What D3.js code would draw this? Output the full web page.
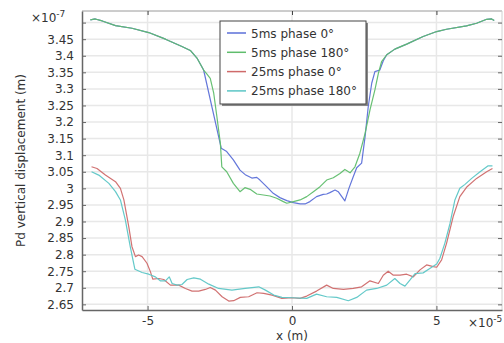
<!DOCTYPE html>
<html>
<head>
<meta charset="utf-8">
<script src="https://cdn.jsdelivr.net/npm/d3@7"></script>
<style>
  html, body { margin: 0; padding: 0; background: #fff; }
  svg { display: block; font-family: "DejaVu Sans", sans-serif; }
</style>
</head>
<body>
<svg id="chart" width="504" height="343"></svg>
<script>
// x in units of 1e-5 m, displacement in units of 1e-7 m
const seriesNames = ["5ms phase 0°", "5ms phase 180°", "25ms phase 0°", "25ms phase 180°"];
const seriesColors = ["#5b6fd8", "#5fbd6c", "#cf6a6a", "#5cc6c6"];

const blue5ms = [
  [-6.98,3.508],[-6.81,3.511],[-6.57,3.505],[-6.11,3.491],[-5.54,3.483],[-4.96,3.470],[-4.38,3.450],
  [-3.81,3.428],[-3.52,3.416],[-3.29,3.393],[-3.06,3.357],[-2.45,3.121],[-2.26,3.111],[-2.03,3.086],
  [-1.80,3.055],[-1.60,3.040],[-1.39,3.031],[-1.22,3.033],[-1.11,3.025],[-0.88,3.005],[-0.65,2.985],
  [-0.42,2.972],[-0.18,2.963],[0.05,2.957],[0.28,2.953],[0.45,2.953],[0.62,2.960],[0.85,2.975],
  [1.08,2.982],[1.20,2.983],[1.31,2.987],[1.49,2.995],[1.60,2.990],[1.83,2.962],[1.97,3.000],
  [2.12,3.035],[2.24,3.062],[2.41,3.076],[2.53,3.156],[2.64,3.247],[2.76,3.317],[2.87,3.352],
  [3.04,3.357],[3.16,3.385],[3.28,3.403],[3.56,3.420],[3.97,3.435],[4.54,3.458],[5.01,3.473],
  [5.35,3.480],[6.04,3.490],[6.39,3.498],[6.74,3.510],[6.91,3.511],[7.00,3.506]
];

const green5ms = [
  [-6.98,3.508],[-6.81,3.511],[-6.57,3.505],[-6.11,3.491],[-5.54,3.483],[-4.96,3.470],[-4.38,3.450],
  [-3.81,3.428],[-3.52,3.416],[-3.29,3.393],[-3.06,3.357],[-2.95,3.345],[-2.83,3.332],[-2.71,3.287],
  [-2.60,3.216],[-2.48,3.136],[-2.43,3.065],[-2.26,3.050],[-2.03,3.015],[-1.80,2.990],[-1.63,3.002],
  [-1.45,2.997],[-1.22,2.983],[-0.99,2.980],[-0.76,2.977],[-0.53,2.970],[-0.30,2.960],[-0.18,2.955],
  [0.05,2.960],[0.28,2.965],[0.51,2.975],[0.74,2.990],[0.97,3.005],[1.20,3.025],[1.43,3.032],
  [1.66,3.045],[1.83,3.057],[2.01,3.047],[2.18,3.065],[2.35,3.106],[2.53,3.166],[2.70,3.237],
  [2.87,3.297],[2.99,3.347],[3.10,3.382],[3.28,3.403],[3.56,3.420],[3.97,3.435],[4.54,3.458],
  [5.01,3.473],[5.35,3.480],[6.04,3.490],[6.39,3.498],[6.74,3.510],[6.91,3.511],[7.00,3.506]
];

const red25ms = [
  [-6.94,3.065],[-6.75,3.060],[-6.46,3.040],[-6.11,3.020],[-5.94,3.000],[-5.82,2.965],[-5.65,2.884],
  [-5.54,2.824],[-5.42,2.794],[-5.31,2.799],[-5.19,2.794],[-5.02,2.774],[-4.90,2.748],[-4.82,2.726],
  [-4.61,2.728],[-4.44,2.725],[-4.21,2.708],[-3.92,2.708],[-3.69,2.698],[-3.46,2.690],[-3.23,2.690],
  [-3.00,2.695],[-2.83,2.701],[-2.65,2.693],[-2.42,2.673],[-2.19,2.660],[-2.02,2.661],[-1.79,2.671],
  [-1.50,2.673],[-1.21,2.685],[-0.98,2.683],[-0.69,2.678],[-0.35,2.668],[0.00,2.670],[0.28,2.668],
  [0.51,2.675],[0.85,2.690],[1.20,2.708],[1.43,2.698],[1.78,2.695],[2.12,2.698],[2.41,2.703],
  [2.70,2.721],[2.99,2.713],[3.16,2.738],[3.33,2.750],[3.51,2.738],[3.74,2.738],[3.97,2.741],
  [4.20,2.733],[4.43,2.754],[4.66,2.769],[4.89,2.764],[5.01,2.762],[5.18,2.784],[5.35,2.834],
  [5.58,2.915],[5.81,2.975],[6.06,3.005],[6.39,3.030],[6.74,3.050],[6.94,3.060]
];

const cyan25ms = [
  [-6.94,3.050],[-6.69,3.040],[-6.34,3.015],[-6.11,2.990],[-5.94,2.965],[-5.77,2.905],[-5.60,2.824],
  [-5.44,2.756],[-5.19,2.746],[-4.96,2.741],[-4.73,2.733],[-4.56,2.721],[-4.38,2.721],[-4.25,2.733],
  [-4.15,2.713],[-3.98,2.708],[-3.81,2.710],[-3.63,2.725],[-3.40,2.730],[-3.17,2.726],[-2.88,2.711],
  [-2.54,2.698],[-2.08,2.693],[-1.62,2.698],[-1.15,2.703],[-0.92,2.693],[-0.63,2.678],[-0.35,2.671],
  [0.00,2.670],[0.51,2.668],[0.85,2.681],[1.20,2.673],[1.55,2.671],[1.95,2.661],[2.24,2.671],
  [2.58,2.693],[2.93,2.698],[3.28,2.708],[3.56,2.728],[3.74,2.713],[3.91,2.705],[4.08,2.723],
  [4.26,2.743],[4.54,2.745],[4.77,2.758],[5.01,2.772],[5.12,2.789],[5.29,2.834],[5.47,2.894],
  [5.64,2.965],[5.81,3.000],[5.99,3.012],[6.22,3.030],[6.51,3.050],[6.79,3.068],[6.94,3.068]
];

const xTickValues = [-5, 0, 5];
const xTickLabels = ["-5", "0", "5"];
const yTickValues = [2.65, 2.7, 2.75, 2.8, 2.85, 2.9, 2.95, 3, 3.05, 3.1, 3.15, 3.2, 3.25, 3.3, 3.35, 3.4, 3.45, 3.5];
const yTickLabels = ["2.65", "2.7", "2.75", "2.8", "2.85", "2.9", "2.95", "3", "3.05", "3.1", "3.15", "3.2", "3.25", "3.3", "3.35", "3.4", "3.45", ""];

const allSeries = [blue5ms, green5ms, red25ms, cyan25ms];

const svg = d3.select("#chart");
const plotLeft = 82, plotRight = 502, plotTop = 11, plotBottom = 310;

const x = d3.scaleLinear().domain([-7.27, 7.27]).range([plotLeft, plotRight]);
const y = d3.scaleLinear().domain([2.633, 3.535]).range([plotBottom, plotTop]);

const textColor = "#333";

// grid
const grid = svg.append("g");
grid.selectAll("line.gy").data(yTickValues).join("line")
  .attr("x1", plotLeft).attr("x2", plotRight)
  .attr("y1", d => y(d)).attr("y2", d => y(d))
  .attr("stroke", "#e8e8e8").attr("stroke-width", 1.5);
grid.selectAll("line.gx").data(xTickValues).join("line")
  .attr("x1", d => x(d)).attr("x2", d => x(d))
  .attr("y1", plotTop).attr("y2", plotBottom)
  .attr("stroke", "#e8e8e8").attr("stroke-width", 1.5);

// frame
svg.append("line").attr("x1", plotLeft).attr("x2", plotRight).attr("y1", plotTop).attr("y2", plotTop)
  .attr("stroke", "#9a9a9a").attr("stroke-width", 1);
svg.append("line").attr("x1", plotRight).attr("x2", plotRight).attr("y1", plotTop).attr("y2", plotBottom)
  .attr("stroke", "#d0d0d0").attr("stroke-width", 1);

// axes with inward ticks
const yAxisL = d3.axisLeft(y).tickValues(yTickValues)
  .tickFormat((d, i) => yTickLabels[i]).tickSizeInner(-4).tickSizeOuter(0).tickPadding(8);
const gy = svg.append("g").attr("transform", `translate(${plotLeft},0)`).call(yAxisL);
gy.select(".domain").attr("stroke", "#666").attr("stroke-width", 1.5);
gy.selectAll(".tick line").attr("stroke", "#666");
gy.selectAll(".tick text").attr("fill", textColor).style("font-size", "12px")
  .style("font-family", "DejaVu Sans, sans-serif");

const yAxisR = d3.axisRight(y).tickValues(yTickValues).tickFormat("").tickSizeInner(-4).tickSizeOuter(0);
const gyr = svg.append("g").attr("transform", `translate(${plotRight},0)`).call(yAxisR);
gyr.select(".domain").attr("stroke", "none");
gyr.selectAll(".tick line").attr("stroke", "#666");

const xAxisB = d3.axisBottom(x).tickValues(xTickValues)
  .tickFormat((d, i) => xTickLabels[i]).tickSizeInner(-4).tickSizeOuter(0).tickPadding(6);
const gx = svg.append("g").attr("transform", `translate(0,${plotBottom})`).call(xAxisB);
gx.select(".domain").attr("stroke", "#666").attr("stroke-width", 1.5);
gx.selectAll(".tick line").attr("stroke", "#666");
gx.selectAll(".tick text").attr("fill", textColor).style("font-size", "12px")
  .style("font-family", "DejaVu Sans, sans-serif");

const xAxisT = d3.axisTop(x).tickValues(xTickValues).tickFormat("").tickSizeInner(-4).tickSizeOuter(0);
const gxt = svg.append("g").attr("transform", `translate(0,${plotTop})`).call(xAxisT);
gxt.select(".domain").attr("stroke", "none");
gxt.selectAll(".tick line").attr("stroke", "#444");

// data lines
const line = d3.line().x(d => x(d[0])).y(d => y(d[1]));
const plot = svg.append("g");
allSeries.forEach((s, i) => {
  plot.append("path").datum(s)
    .attr("d", line)
    .attr("fill", "none")
    .attr("stroke", seriesColors[i])
    .attr("stroke-width", 1.2)
    .attr("stroke-linejoin", "round")
    .attr("opacity", 0.95);
});

// axis titles and exponents
svg.append("text").attr("x", x(0)).attr("y", 340).attr("text-anchor", "middle")
  .attr("fill", textColor).style("font-size", "12px").text("x (m)");
svg.append("text").attr("transform", `translate(25,${(plotTop + plotBottom) / 2}) rotate(-90)`)
  .attr("text-anchor", "middle").attr("fill", textColor).style("font-size", "12px")
  .text("Pd vertical displacement (m)");

function exponentLabel(px, py, exp) {
  const t = svg.append("text").attr("x", px).attr("y", py).attr("fill", textColor).style("font-size", "12px");
  t.append("tspan").text("×10");
  t.append("tspan").attr("dy", -5).style("font-size", "9px").text(exp);
}
exponentLabel(31, 22, "-7");
exponentLabel(468, 327, "-5");

// legend
const lg = svg.append("g").attr("transform", "translate(220,21)");
lg.append("rect").attr("x", 2).attr("y", 2).attr("width", 146).attr("height", 83).attr("fill", "#888");
lg.append("rect").attr("x", 0).attr("y", 0).attr("width", 146).attr("height", 83)
  .attr("fill", "#fff").attr("stroke", "#444").attr("stroke-width", 1);
seriesNames.forEach((name, i) => {
  const yy = 12 + i * 19.3;
  lg.append("line").attr("x1", 7).attr("x2", 26).attr("y1", yy).attr("y2", yy)
    .attr("stroke", seriesColors[i]).attr("stroke-width", 1.5);
  lg.append("text").attr("x", 31).attr("y", yy + 4.5).attr("fill", textColor)
    .style("font-size", "12px").text(name);
});
</script>
</body>
</html>
